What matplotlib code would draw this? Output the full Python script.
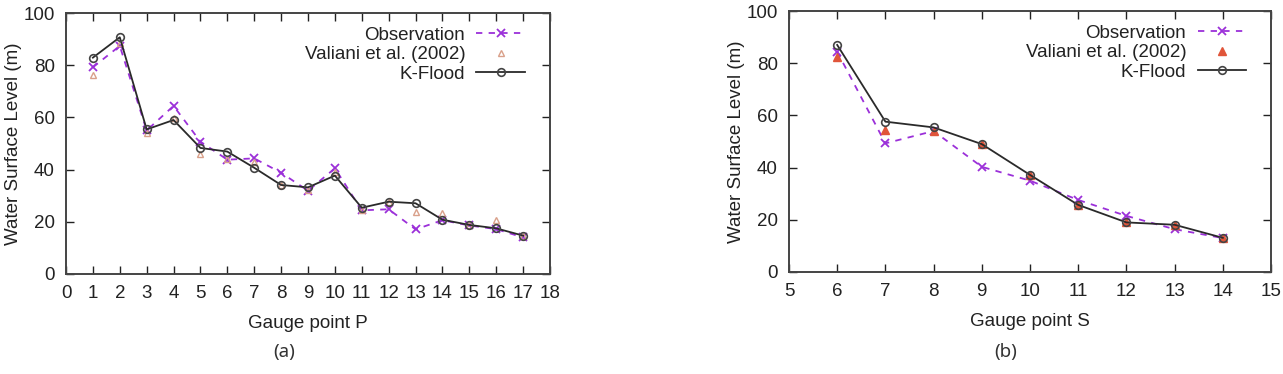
import matplotlib
matplotlib.use("Agg")
import matplotlib.pyplot as plt

# ---- data: panel (a) gauge points P ----
p_points = list(range(1, 18))
p_obs = [79.2, 87.4, 55.0, 64.4, 50.7, 43.8, 44.3, 38.8, 31.9, 40.5, 24.4, 24.8, 17.1, 20.6, 18.6, 17.2, 14.0]
p_valiani = [76.2, 88.5, 54.1, 59.6, 45.8, 44.0, 43.0, 34.0, 32.0, 39.0, 24.5, 27.5, 23.9, 23.2, 18.6, 20.7, 14.5]
p_kflood = [82.9, 90.7, 55.4, 59.0, 48.3, 46.9, 40.7, 34.1, 33.2, 37.7, 25.4, 27.7, 27.1, 20.8, 18.8, 17.5, 14.7]
p_xticks = list(range(0, 19))

# ---- data: panel (b) gauge points S ----
s_points = list(range(6, 15))
s_obs = [84.4, 49.3, 54.0, 40.3, 35.0, 27.6, 21.5, 16.4, 13.0]
s_valiani = [82.3, 54.4, 54.1, 49.0, 37.0, 25.5, 19.0, 18.0, 13.1]
s_kflood = [87.0, 57.6, 55.4, 49.0, 37.2, 25.7, 19.0, 18.1, 13.1]
s_xticks = list(range(5, 16))

y_ticks = [0, 20, 40, 60, 80, 100]

plt.rcParams['font.family'] = ['Liberation Sans', 'DejaVu Sans']

fig = plt.figure(figsize=(12.83, 3.74), dpi=100)
ax_a = fig.add_axes([66/1283, 1-274/374, (550-66)/1283, (274-13)/374])
ax_b = fig.add_axes([789/1283, 1-272/374, (1271-789)/1283, (272-11)/374])

obs_color = '#9b30d9'
kf_color = '#2a2a2a'
FS = 13.5

def draw(ax, x, obs, val, kf, val_style, xlim, xticks, xlabel, caption, cap_x):
    ax.plot(x, obs, linestyle=(0, (3.5, 3.5)), color=obs_color, lw=1.3,
            marker='x', ms=6, mew=1.3, label='Observation')
    ax.plot(x, val, linestyle='none', label='Valiani et al. (2002)', **val_style)
    ax.plot(x, kf, linestyle='-', color=kf_color, lw=1.3, marker='o', ms=5.5,
            mfc='none', mec='#444444', mew=1.2, label='K-Flood')
    ax.set_xlim(*xlim)
    ax.set_ylim(0, 100)
    ax.set_xticks(xticks)
    ax.set_yticks(y_ticks)
    ax.tick_params(direction='in', length=6, width=1.0, top=True, right=True,
                   labelsize=FS, colors='#222222', pad=8)
    for s in ax.spines.values():
        s.set_linewidth(1.4)
        s.set_color('#444444')
    ax.set_xlabel(xlabel, fontsize=FS, color='#222222', labelpad=9)
    ax.set_ylabel('Water Surface Level (m)', fontsize=FS, color='#222222', labelpad=1)
    leg = ax.legend(loc='upper right', frameon=False, markerfirst=False,
                    handlelength=2.6, fontsize=FS, borderaxespad=0.2,
                    labelspacing=0.12, handletextpad=0.6,
                    bbox_to_anchor=(0.972, 0.99))
    for t in leg.get_texts():
        t.set_color('#222222')
    fig.text(cap_x/1283, 1-352/374, caption, fontsize=13.5, ha='center', va='center',
             color='#333333', family=['Noto Sans', 'DejaVu Sans'], fontweight='light')

draw(ax_a, p_points, p_obs, p_valiani, p_kflood,
     dict(marker='^', ms=5, mfc='none', mec='#d9a08a', mew=1.0, color='#d9a08a'),
     (0, 18), p_xticks, 'Gauge point P', '(a)', 284)
draw(ax_b, s_points, s_obs, s_valiani, s_kflood,
     dict(marker='^', ms=6, mfc='#e0553a', mec='#e0553a', color='#e0553a'),
     (5, 15), s_xticks, 'Gauge point S', '(b)', 1006)

fig.savefig('out.png', dpi=100)
